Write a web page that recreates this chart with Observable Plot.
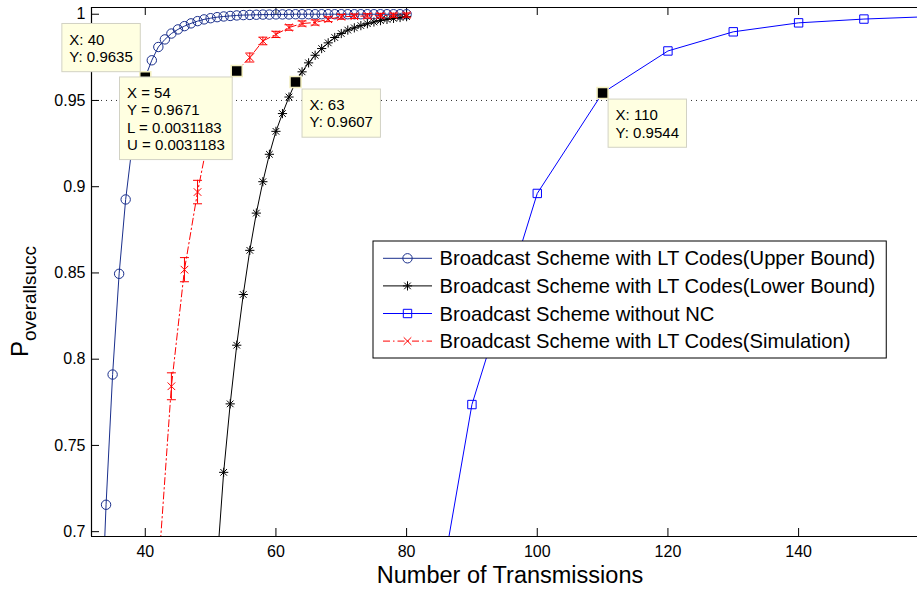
<!DOCTYPE html>
<html><head><meta charset="utf-8">
<script src="https://cdn.jsdelivr.net/npm/d3@7"></script>
<script src="https://cdn.jsdelivr.net/npm/@observablehq/plot@0.6"></script>
<style>
body{margin:0;background:#fff;}
#chart{position:relative;width:917px;height:589px;overflow:hidden;}
</style></head><body><div id="chart"></div>
<script>
// ---------- data ----------
const upperX = [33,34,35,36,37,38,39,40,41,42,43,44,45,46,47,48,49,50,51,52,53,54,55,56,57,58,59,60,61,62,63,64,65,66,67,68,69,70,71,72,73,74,75,76,77,78,79,80];
const upperY = [0.620,0.7156,0.7911,0.8495,0.8926,0.9240,0.9470,0.9635,0.9733,0.9810,0.9854,0.9888,0.9912,0.9931,0.9947,0.9960,0.9970,0.9977,0.9983,0.9987,0.9990,0.9993,0.9995,0.9996,0.9997,0.9998,0.9998,0.9999,0.9999,0.9999,1,1,1,1,1,1,1,1,1,1,1,1,1,1,1,1,1,1];

const lowerX = [51,52,53,54,55,56,57,58,59,60,61,62,63,64,65,66,67,68,69,70,71,72,73,74,75,76,77,78,79,80];
const lowerY = [0.682,0.7344,0.7741,0.8081,0.8375,0.8631,0.8847,0.9029,0.9188,0.9321,0.9424,0.9520,0.9607,0.9666,0.9718,0.9762,0.9801,0.9834,0.9865,0.9888,0.9908,0.9921,0.9934,0.9945,0.9955,0.9963,0.9970,0.9976,0.9981,0.9986];

const noNcX = [80,90,100,110,120,130,140,150,160];
const noNcY = [0.556,0.7737,0.8961,0.9544,0.9787,0.9898,0.9950,0.9972,0.9986];

const simX = [42,44,46,48,50,52,54,56,58,60,62,64,66,68,70,72,74,76,78,80];
const simY = [0.677,0.7843,0.8519,0.8969,0.9350,0.9560,0.9671,0.9749,0.9845,0.9883,0.9923,0.9946,0.9952,0.9971,0.9985,0.9988,0.9990,0.9992,0.9994,0.9995];
const simErr = [0.0080,0.0078,0.0070,0.0068,0.0050,0.0040,0.0031183,0.0026,0.0022,0.0018,0.0016,0.0015,0.0015,0.0014,0.0014,0.0013,0.0013,0.0013,0.0012,0.0012];

const tipX = [40,54,63,110];
const tipY = [0.9635,0.9671,0.9607,0.9544];
const tipText = [["X: 40","Y: 0.9635"],["X = 54","Y = 0.9671","L = 0.0031183","U = 0.0031183"],["X: 63","Y: 0.9607"],["X: 110","Y: 0.9544"]];

const xTicks = [40,60,80,100,120,140];
const xTickLabels = ["40","60","80","100","120","140"];
const yTicks = [0.7,0.75,0.8,0.85,0.9,0.95,1];
const yTickLabels = ["0.7","0.75","0.8","0.85","0.9","0.95","1"];
const refLine = [0.95];

const legendLabels = ["Broadcast Scheme with LT Codes(Upper Bound)","Broadcast Scheme with LT Codes(Lower Bound)","Broadcast Scheme without NC","Broadcast Scheme with LT Codes(Simulation)"];
const xLabel = "Number of Transmissions";
const yLabelMain = "P";
const yLabelSub = "overallsucc";

// ---------- layout / style ----------
const W = 917, H = 589, mL = 91, mR = 0, mT = 7, mB = 53;
const xDomain = [31.77, 158.2], yDomain = [0.6972, 1.0039];
const FONT = "'Liberation Sans', Arial, Helvetica, sans-serif";
const cUp = "#1a2f8c", cLow = "#000000", cNo = "#0000ff", cSim = "#ff0000";
const innerW = W - mL - mR, innerH = H - mT - mB;
const tickLen = 8;
const dxT = tickLen * (xDomain[1] - xDomain[0]) / innerW;
const dyT = tickLen * (yDomain[1] - yDomain[0]) / innerH;

const upper = upperX.map((x, i) => ({x, y: upperY[i]}));
const lower = lowerX.map((x, i) => ({x, y: lowerY[i]}));
const noNc = noNcX.map((x, i) => ({x, y: noNcY[i]}));
const sim = simX.map((x, i) => ({x, y: simY[i], e: simErr[i]}));
const tips = tipX.map((x, i) => ({x, y: tipY[i], lines: tipText[i]}));

// custom symbols (radius = r option)
const rad = s => Math.sqrt(s / Math.PI);
const symHLine = {draw(c, s){const r = rad(s); c.moveTo(-r,0); c.lineTo(r,0);}};
const symStar = {draw(c, s){const r = rad(s), d = r*0.72; c.moveTo(-r,0); c.lineTo(r,0); c.moveTo(0,-r); c.lineTo(0,r); c.moveTo(-d,-d); c.lineTo(d,d); c.moveTo(-d,d); c.lineTo(d,-d);}};
const symX = {draw(c, s){const r = rad(s); c.moveTo(-r,-r); c.lineTo(r,r); c.moveTo(-r,r); c.lineTo(r,-r);}};
const symSq = {draw(c, s){const r = rad(s); c.rect(-r,-r,2*r,2*r);}};
const symCircle = {draw(c, s){const r = rad(s); c.moveTo(r,0); c.arc(0,0,r,0,2*Math.PI);}};

const chart = Plot.plot({
  width: W, height: H,
  marginLeft: mL, marginRight: mR, marginTop: mT, marginBottom: mB,
  style: {fontFamily: FONT, fontSize: "16px", color: "#000", background: "#fff", overflow: "visible"},
  x: {domain: xDomain},
  y: {domain: yDomain},
  marks: [
    Plot.ruleY(refLine, {stroke: "#333", strokeWidth: 1, strokeDasharray: "1,4"}),
    // frame
    Plot.ruleX([xDomain[0]], {stroke: "#000", strokeWidth: 1.2}),
    Plot.ruleY([yDomain[0]], {stroke: "#000", strokeWidth: 1.2}),
    Plot.ruleY([yDomain[1]], {stroke: "#000", strokeWidth: 1.2}),
    // inward ticks
    Plot.ruleY(yTicks, {x1: xDomain[0], x2: xDomain[0] + dxT, stroke: "#000"}),
    Plot.ruleX(xTicks, {y1: yDomain[0], y2: yDomain[0] + dyT, stroke: "#000"}),
    Plot.ruleX(xTicks, {y1: yDomain[1] - dyT, y2: yDomain[1], stroke: "#000"}),
    Plot.axisX({ticks: xTicks, tickSize: 0, tickPadding: 9, tickFormat: d => xTickLabels[xTicks.indexOf(d)], label: null, fontSize: 16}),
    Plot.axisY({ticks: yTicks, tickSize: 0, tickPadding: 6, tickFormat: d => yTickLabels[yTicks.indexOf(d)], label: null, fontSize: 16}),
    // upper bound
    Plot.line(upper, {x: "x", y: "y", stroke: cUp, strokeWidth: 1, clip: true}),
    Plot.dot(upper, {x: "x", y: "y", symbol: symCircle, r: 4.7, stroke: cUp, fill: "none", strokeWidth: 1, clip: true}),
    // lower bound
    Plot.line(lower, {x: "x", y: "y", stroke: cLow, strokeWidth: 1, clip: true}),
    Plot.dot(lower, {x: "x", y: "y", symbol: symStar, r: 4.6, stroke: cLow, fill: "none", strokeWidth: 1, clip: true}),
    // without NC
    Plot.line(noNc, {x: "x", y: "y", stroke: cNo, strokeWidth: 1, clip: true}),
    Plot.dot(noNc, {x: "x", y: "y", symbol: symSq, r: 4.2, stroke: cNo, fill: "none", strokeWidth: 1, clip: true}),
    // simulation
    Plot.line(sim, {x: "x", y: "y", stroke: cSim, strokeWidth: 1, strokeDasharray: "7,3,1.5,3", clip: true}),
    Plot.ruleX(sim, {x: "x", y1: d => d.y - d.e, y2: d => d.y + d.e, stroke: cSim, strokeWidth: 1, clip: true}),
    Plot.dot(sim, {x: "x", y: d => d.y - d.e, symbol: symHLine, r: 4.5, stroke: cSim, fill: "none", strokeWidth: 1, clip: true}),
    Plot.dot(sim, {x: "x", y: d => d.y + d.e, symbol: symHLine, r: 4.5, stroke: cSim, fill: "none", strokeWidth: 1, clip: true}),
    Plot.dot(sim, {x: "x", y: "y", symbol: symX, r: 3.8, stroke: cSim, fill: "none", strokeWidth: 1, clip: true}),
    // datatip markers
    Plot.dot(tips, {x: "x", y: "y", symbol: symSq, r: 5.5, fill: "#000", stroke: "#f3efc0", strokeWidth: 1.5})
  ]
});
document.getElementById("chart").appendChild(chart);

// ---------- annotations (positioned through the Plot scales) ----------
const svg = d3.select(chart);
const sx = chart.scale("x"), sy = chart.scale("y");
const tipLayout = [
  {h: "right", v: "above", ox: -4.5, oy: -5},
  {h: "right", v: "below", ox: -4, oy: 6.5},
  {h: "left", v: "below", ox: 7, oy: 7.5},
  {h: "left", v: "below", ox: 6, oy: 6.7}
];
const tipsG = svg.append("g").attr("text-anchor", "start");
tips.forEach((t, i) => {
  const L = tipLayout[i];
  const px = sx.apply(t.x), py = sy.apply(t.y);
  const g = tipsG.append("g");
  const rect = g.append("rect");
  const txt = g.append("g").attr("font-size", 15).attr("font-family", FONT).attr("fill", "#000").attr("text-anchor", "start");
  t.lines.forEach((s, j) => txt.append("text").attr("x", 0).attr("y", 16 + j * 17.2).attr("dy", "0.35em").text(s));
  const w = txt.node().getBBox().width + 15;
  const h = 31 + 17.2 * (t.lines.length - 1);
  const left = L.h === "right" ? px + L.ox - w : px + L.ox;
  const top = L.v === "above" ? py + L.oy - h : py + L.oy;
  rect.attr("x", left).attr("y", top).attr("width", w).attr("height", h)
      .attr("fill", "#ffffe1").attr("stroke", "#d2d2c4").attr("stroke-width", 1);
  txt.attr("transform", `translate(${left + 7.5},${top})`);
});

// legend
const legX = 373, legY = 241, rowH = 27.6, legFont = 20.2;
const leg = svg.append("g").attr("text-anchor", "start");
const legRect = leg.append("rect").attr("x", legX).attr("y", legY).attr("fill", "#fff").attr("stroke", "#000").attr("stroke-width", 1);
const legSpecs = [
  {c: cUp, sym: symCircle, r: 4.7, dash: null},
  {c: cLow, sym: symStar, r: 4.6, dash: null},
  {c: cNo, sym: symSq, r: 4.2, dash: null},
  {c: cSim, sym: symX, r: 3.8, dash: "7,3,1.5,3"}
];
let maxW = 0;
legendLabels.forEach((lab, i) => {
  const cy = legY + 17.3 + i * rowH;
  const sp = legSpecs[i];
  leg.append("line").attr("x1", legX + 10).attr("x2", legX + 59).attr("y1", cy).attr("y2", cy)
     .attr("stroke", sp.c).attr("stroke-width", 1).attr("stroke-dasharray", sp.dash);
  const p = d3.path(); sp.sym.draw(p, sp.r * sp.r * Math.PI);
  leg.append("path").attr("d", p.toString()).attr("transform", `translate(${legX + 34.5},${cy})`)
     .attr("fill", "none").attr("stroke", sp.c).attr("stroke-width", 1);
  const t = leg.append("text").attr("x", legX + 66.5).attr("y", cy).attr("dy", "0.35em")
     .attr("font-size", legFont).attr("font-family", FONT).attr("fill", "#000").attr("text-anchor", "start").text(lab);
  maxW = Math.max(maxW, t.node().getComputedTextLength());
});
legRect.attr("width", 66.5 + maxW + 11).attr("height", 117);

// axis labels
svg.append("text").attr("x", 510).attr("y", 583).attr("text-anchor", "middle")
   .attr("font-size", 23.5).attr("font-family", FONT).attr("fill", "#000").text(xLabel);
const yl = svg.append("text").attr("transform", "translate(28,357) rotate(-90)")
   .attr("font-family", FONT).attr("fill", "#000").attr("text-anchor", "start");
yl.append("tspan").attr("font-size", 24).text(yLabelMain);
yl.append("tspan").attr("font-size", 19).attr("dy", 8).text(yLabelSub);
</script>
</body></html>
